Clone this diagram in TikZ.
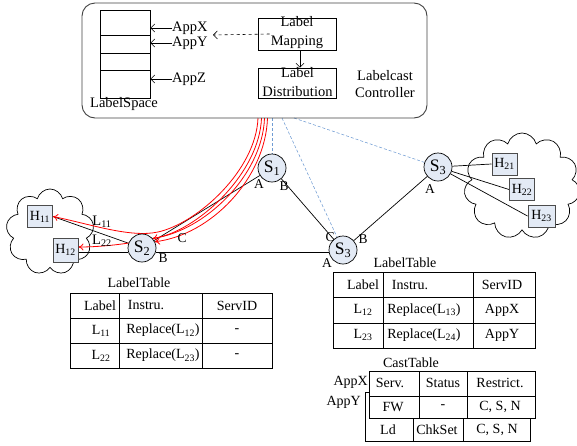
\documentclass[tikz,border=0pt]{standalone}
\usepackage{fontspec}
\setmainfont{Liberation Serif}
\usetikzlibrary{arrows.meta,shapes.symbols}
\pgfdeclarelayer{under}
\pgfsetlayers{under,main}
\definecolor{swfill}{HTML}{E3EAF5}
\definecolor{dashblue}{HTML}{6F9BD3}
\newcommand{\fs}[1]{\fontsize{#1}{#1}\selectfont}
\tikzset{
  sw/.style={circle,draw,fill=swfill,minimum size=28pt,inner sep=0pt,line width=0.7pt,font=\fs{17.5}},
  host/.style={draw=black!70,line width=1pt,fill=swfill,minimum width=25pt,minimum height=22pt,inner sep=0pt,font=\fs{14}},
  port/.style={font=\fs{13.5},inner sep=0pt},
  txt/.style={font=\fs{14.5},inner sep=0pt},
  tbl/.style={font=\fs{14},inner sep=0pt},
  link/.style={line width=0.7pt},
  ctl/.style={draw=dashblue,dash pattern=on 3pt off 2pt,line width=0.55pt},
  sig/.style={draw=red,line width=0.8pt,-{To[length=5pt,width=7pt]}},
  barb/.style={-{Straight Barb[length=4pt,width=8pt]},line width=0.6pt},
  cloudy/.style={cloud,draw,line width=0.7pt,cloud ignores aspect},
  stack/.style={draw,line width=0.7pt,minimum width=50pt,inner sep=0pt},
  procbox/.style={draw,line width=0.7pt,minimum width=78pt,inner sep=0pt},
  proctext/.style={inner sep=0pt,align=center,font=\fontsize{14.5}{18.5}\selectfont},
  grid/.style={line width=0.8pt}
}
\begin{document}
\begin{tikzpicture}[x=1pt,y=-1pt]
\useasboundingbox (0,0) rectangle (577,445);

% ---- controller ----
\node[draw=black!75,line width=0.9pt,rounded corners=13pt,minimum width=345pt,minimum height=115pt,inner sep=0pt] (ctrl) at (254.5,60.5) {};
\node[stack,minimum height=25pt] (ls1) at (125,22.5) {};
\node[stack,minimum height=18pt] (ls2) at (125,44) {};
\node[stack,minimum height=17pt] (ls3) at (125,61.5) {};
\node[stack,minimum height=28pt] (ls4) at (125,84) {};
\node[txt] (lspace) at (124,104) {LabelSpace};
\node[txt,anchor=west] (appx) at (172,28) {AppX};
\node[txt,anchor=west] (appy) at (172,43) {AppY};
\node[txt,anchor=west] (appz) at (172,79) {AppZ};
\draw[barb] (appx.west) -- (appx.west -| ls1.east);
\draw[barb] (appy.west) -- (appy.west -| ls1.east);
\draw[barb] (appz.west) -- (appz.west -| ls1.east);
\node[procbox,minimum height=32pt] (lmap) at (297,34) {};
\node[proctext] (lmapt) at (297,32.5) {Label\\Mapping};
\node[procbox,minimum height=30pt] (ldist) at (297.5,83) {};
\node[proctext] (ldistt) at (297.5,82) {Label\\Distribution};
\draw[barb] (lmap.south -| 300,0) -- (ldist.north -| 300,0);
\coordinate (dtip) at (213,35);
\draw[barb,dashed] ([xshift=12pt]lmap.west) -- (dtip);
\node[txt,align=center] (lcc) at (385,84) {Labelcast\\[2pt]Controller};

% ---- switches and hosts ----
\node[sw] (s1) at (272,168) {S\textsubscript{1}};
\node[sw] (s2) at (142,248) {S\textsubscript{2}};
\node[sw] (s3a) at (343,250) {S\textsubscript{3}};
\node[sw] (s3b) at (438,167) {S\textsubscript{3}};
\node[host] (h11) at (40,216.5) {H\textsubscript{11}};
\node[host,minimum height=24pt] (h12) at (65.5,250) {H\textsubscript{12}};
\node[host] (h21) at (504.5,164) {H\textsubscript{21}};
\node[host] (h22) at (522,189.5) {H\textsubscript{22}};
\node[host,minimum width=27pt] (h23) at (541.5,216) {H\textsubscript{23}};

\begin{pgfonlayer}{under}
% clouds
\node[cloudy,cloud puffs=9,minimum width=88pt,minimum height=86pt] (cl) at (50,232) {};
\node[cloudy,cloud puffs=11,minimum width=116pt,minimum height=106pt] (cr) at (522,186) {};
% data links
\draw[link] (s1) -- (s2);
\draw[link] (s1) -- (s3a);
\draw[link] (s2.east |- 0,252) -- (s3a.west |- 0,252);
\draw[link] (s3a) -- (s3b);
\draw[link] (s2) -- (h11.east);
\draw[link] (s2.west |- 0,252) -- (h12.east |- 0,252);
\draw[link] (s3b) -- (h21.west);
\draw[link] (s3b) -- (h22.west);
\draw[link] (s3b) -- (h23.west);
% control channels
\coordinate (d1) at (272,118);
\coordinate (d2) at (282,118);
\coordinate (d3) at (294,118);
\draw[ctl] (d1) -- (s1);
\draw[ctl] (d2) -- (s3a);
\draw[ctl] (d3) -- (s3b);
% label distribution paths
\coordinate (r1) at (258,118);
\coordinate (r2) at (261.5,118);
\coordinate (r3) at (264.5,118);
\coordinate (r4) at (267.5,118);
\draw[sig] (r1) .. controls (256,170) and (198,223) .. (158,232)
              .. controls (130,238) and (90,224) .. (h11.east);
\draw[sig] (r2) .. controls (259.5,172) and (201,227) .. (160,237)
              .. controls (135,243) and (105,247) .. ([yshift=3pt]h12.east);
\draw[sig] (r3) .. controls (262.5,175) and (205,231) .. (s2.42);
\draw[sig] (r4) .. controls (265.5,178) and (211,235) .. (s2.26);
\end{pgfonlayer}

% port letters
\node[port] (p1a) at (259,184) {A};
\node[port] (p1b) at (284,186) {B};
\node[port] (p2c) at (182,238) {C};
\node[port] (p2b) at (163,258) {B};
\node[port] (p3c) at (330,237) {C};
\node[port] (p3b) at (363,239) {B};
\node[port] (p3a) at (327,263) {A};
\node[port] (p4a) at (430,189) {A};
\node[txt] (l11) at (102,222) {L\textsubscript{11}};
\node[txt] (l22) at (102,241) {L\textsubscript{22}};

% ---- left label table ----
\node[tbl] (ltt) at (139,283) {LabelTable};
\draw[grid] (70,293) rectangle (272,368);
\draw[grid] (70,318) -- (272,318) (70,343) -- (272,343);
\draw[grid] (119,293) -- (119,368) (202,293) -- (202,368);
\node[tbl] at (100,305.5) {Label};
\node[tbl] at (146,305.5) {Instru.};
\node[tbl] at (237,305.5) {ServID};
\node[tbl] at (101,330.5) {L\textsubscript{11}};
\node[tbl] at (163,330.5) {Replace(L\textsubscript{12})};
\node[tbl] at (237,330.5) {-};
\node[tbl] at (101,355.5) {L\textsubscript{22}};
\node[tbl] at (163,355.5) {Replace(L\textsubscript{23})};
\node[tbl] at (237,355.5) {-};

% ---- right label table ----
\node[tbl] (rtt) at (405,263) {LabelTable};
\draw[grid] (333,272) rectangle (535,348);
\draw[grid] (333,297) -- (535,297) (333,323) -- (535,323);
\draw[grid] (383,272) -- (383,348) (473,272) -- (473,348);
\node[tbl] at (363,285) {Label};
\node[tbl] at (410,285) {Instru.};
\node[tbl] at (502,285) {ServID};
\node[tbl] at (363,310) {L\textsubscript{12}};
\node[tbl] at (424,310) {Replace(L\textsubscript{13})};
\node[tbl] at (502,310) {AppX};
\node[tbl] at (363,335) {L\textsubscript{23}};
\node[tbl] at (424,335) {Replace(L\textsubscript{24})};
\node[tbl] at (502,335) {AppY};

% ---- cast table (AppY behind AppX) ----
\node[tbl] (ctt) at (411,363) {CastTable};
\draw[grid,fill=white] (365,392) rectangle (530,441);
\draw[grid] (413,418) -- (413,441) (463,418) -- (463,441);
\node[tbl] at (388,430) {Ld};
\node[tbl] at (437,430) {ChkSet};
\node[tbl] at (497,430) {C, S, N};
\draw[grid,fill=white] (369,371) rectangle (535,418);
\draw[grid] (369,396) -- (535,396);
\draw[grid] (419,371) -- (419,418) (467,371) -- (467,418);
\node[tbl] at (390,383) {Serv.};
\node[tbl] at (443,383) {Status};
\node[tbl] at (500,383) {Restrict.};
\node[tbl] at (393,407) {FW};
\node[tbl] at (443,407) {-};
\node[tbl] at (500,407) {C, S, N};
\node[tbl,anchor=east] at (368,382) {AppX};
\node[tbl,anchor=east] at (361,402) {AppY};
\end{tikzpicture}
\end{document}
